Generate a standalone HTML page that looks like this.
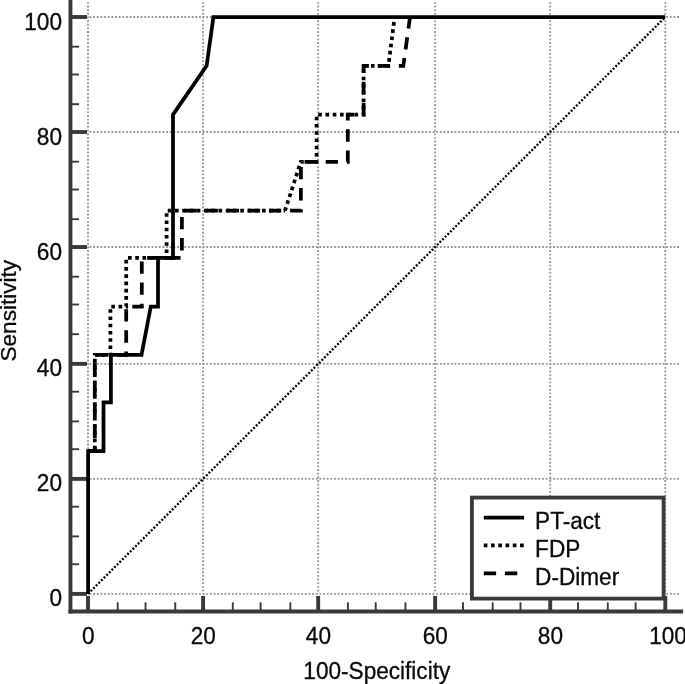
<!DOCTYPE html>
<html><head><meta charset="utf-8"><title>ROC</title>
<style>html,body{margin:0;padding:0;background:#fff}svg{display:block}text{font-family:"Liberation Sans",Arial,sans-serif;font-size:22.6px;fill:#0a0a0a;stroke:#0a0a0a;stroke-width:0.3px}</style></head><body>
<svg width="685" height="684" viewBox="0 0 685 684">
<rect width="685" height="684" fill="#fff"/>
<g stroke="#969696" stroke-width="1.85" stroke-dasharray="1.85 1.8" fill="none">
<line x1="88.00" y1="591.40" x2="88.00" y2="2.3"/>
<line x1="89.50" y1="593.90" x2="679.6" y2="593.90"/>
<line x1="203.09" y1="591.40" x2="203.09" y2="2.3"/>
<line x1="89.50" y1="478.89" x2="679.6" y2="478.89"/>
<line x1="318.18" y1="591.40" x2="318.18" y2="2.3"/>
<line x1="89.50" y1="363.88" x2="679.6" y2="363.88"/>
<line x1="435.12" y1="591.40" x2="435.12" y2="2.3"/>
<line x1="89.50" y1="247.02" x2="679.6" y2="247.02"/>
<line x1="550.22" y1="591.40" x2="550.22" y2="2.3"/>
<line x1="89.50" y1="132.01" x2="679.6" y2="132.01"/>
<line x1="665.30" y1="591.40" x2="665.30" y2="2.3"/>
<line x1="89.50" y1="17.00" x2="679.6" y2="17.00"/>
</g>
<line x1="88.00" y1="593.90" x2="665.30" y2="17.00" stroke="#000" stroke-width="2.3" stroke-dasharray="2.0 1.71"/>
<g stroke="#3a3a3a" fill="none">
<line x1="70.45" y1="0" x2="70.45" y2="613.45" stroke-width="3.9"/>
<line x1="68.5" y1="611.5" x2="683.1" y2="611.5" stroke-width="3.9"/>
<line x1="70.45" y1="593.90" x2="87.00" y2="593.90" stroke-width="3.9"/>
<line x1="88.00" y1="611.5" x2="88.00" y2="595.90" stroke-width="3.9"/>
<line x1="70.45" y1="564.23" x2="79.05" y2="564.23" stroke-width="1.9"/>
<line x1="117.70" y1="611.5" x2="117.70" y2="602.30" stroke-width="1.9"/>
<line x1="70.45" y1="536.40" x2="79.05" y2="536.40" stroke-width="1.9"/>
<line x1="145.54" y1="611.5" x2="145.54" y2="602.30" stroke-width="1.9"/>
<line x1="70.45" y1="506.72" x2="79.05" y2="506.72" stroke-width="1.9"/>
<line x1="175.25" y1="611.5" x2="175.25" y2="602.30" stroke-width="1.9"/>
<line x1="70.45" y1="478.89" x2="87.00" y2="478.89" stroke-width="3.9"/>
<line x1="203.09" y1="611.5" x2="203.09" y2="595.90" stroke-width="3.9"/>
<line x1="70.45" y1="449.21" x2="79.05" y2="449.21" stroke-width="1.9"/>
<line x1="232.79" y1="611.5" x2="232.79" y2="602.30" stroke-width="1.9"/>
<line x1="70.45" y1="421.39" x2="79.05" y2="421.39" stroke-width="1.9"/>
<line x1="260.63" y1="611.5" x2="260.63" y2="602.30" stroke-width="1.9"/>
<line x1="70.45" y1="391.71" x2="79.05" y2="391.71" stroke-width="1.9"/>
<line x1="290.33" y1="611.5" x2="290.33" y2="602.30" stroke-width="1.9"/>
<line x1="70.45" y1="363.88" x2="87.00" y2="363.88" stroke-width="3.9"/>
<line x1="318.18" y1="611.5" x2="318.18" y2="595.90" stroke-width="3.9"/>
<line x1="70.45" y1="334.20" x2="79.05" y2="334.20" stroke-width="1.9"/>
<line x1="347.88" y1="611.5" x2="347.88" y2="602.30" stroke-width="1.9"/>
<line x1="70.45" y1="304.52" x2="79.05" y2="304.52" stroke-width="1.9"/>
<line x1="375.72" y1="611.5" x2="375.72" y2="602.30" stroke-width="1.9"/>
<line x1="70.45" y1="276.70" x2="79.05" y2="276.70" stroke-width="1.9"/>
<line x1="405.43" y1="611.5" x2="405.43" y2="602.30" stroke-width="1.9"/>
<line x1="70.45" y1="247.02" x2="87.00" y2="247.02" stroke-width="3.9"/>
<line x1="435.12" y1="611.5" x2="435.12" y2="595.90" stroke-width="3.9"/>
<line x1="70.45" y1="219.19" x2="79.05" y2="219.19" stroke-width="1.9"/>
<line x1="462.97" y1="611.5" x2="462.97" y2="602.30" stroke-width="1.9"/>
<line x1="70.45" y1="189.51" x2="79.05" y2="189.51" stroke-width="1.9"/>
<line x1="492.67" y1="611.5" x2="492.67" y2="602.30" stroke-width="1.9"/>
<line x1="70.45" y1="161.69" x2="79.05" y2="161.69" stroke-width="1.9"/>
<line x1="520.51" y1="611.5" x2="520.51" y2="602.30" stroke-width="1.9"/>
<line x1="70.45" y1="132.01" x2="87.00" y2="132.01" stroke-width="3.9"/>
<line x1="550.22" y1="611.5" x2="550.22" y2="595.90" stroke-width="3.9"/>
<line x1="70.45" y1="104.19" x2="79.05" y2="104.19" stroke-width="1.9"/>
<line x1="578.06" y1="611.5" x2="578.06" y2="602.30" stroke-width="1.9"/>
<line x1="70.45" y1="74.50" x2="79.05" y2="74.50" stroke-width="1.9"/>
<line x1="607.76" y1="611.5" x2="607.76" y2="602.30" stroke-width="1.9"/>
<line x1="70.45" y1="46.68" x2="79.05" y2="46.68" stroke-width="1.9"/>
<line x1="635.61" y1="611.5" x2="635.61" y2="602.30" stroke-width="1.9"/>
<line x1="70.45" y1="17.00" x2="87.00" y2="17.00" stroke-width="3.9"/>
<line x1="665.30" y1="611.5" x2="665.30" y2="595.90" stroke-width="3.9"/>
</g>
<g stroke="#000" stroke-width="3.75" fill="none" stroke-linejoin="miter">
<path d="M88.1,451.0 L94.8,451.0 L94.8,354.8 L110.4,354.8 L110.4,306.5 L126.2,306.5 L126.2,257.9 L166.6,257.9 L166.6,210.7 L285.0,210.7" stroke-dasharray="3.65 3.6" stroke-dashoffset="6.30"/>
<path d="M285.0,210.7 L300.8,161.8 L316.6,161.8 L316.6,114.7 L363.6,114.7 L363.6,65.9 L388.4,65.9 L394.6,17.2" stroke-dasharray="3.65 3.6" stroke-dashoffset="0.10"/>
<path d="M88.1,451.0 L94.8,451.0 L94.8,354.8 L126.2,354.8 L126.2,306.5 L141.8,306.5 L141.8,257.9 L181.9,257.9 L181.9,210.7 L300.9,210.7 L300.9,161.8 L347.8,161.8 L347.8,114.7 L363.6,114.7 L363.6,65.9 L403.3,65.9 L410.0,17.2" stroke-dasharray="12.32 8.81" stroke-dashoffset="1.45"/>
<path d="M88.1,593.9 L88.1,451.0 L103.5,451.0 L103.5,402.3 L110.9,402.3 L110.9,354.8 L141.5,354.8 L150.8,306.5 L158.0,306.5 L158.0,257.9 L173.0,257.9 L173.0,114.7 L206.6,65.9 L213.4,17.2 L665.0,17.2"/>
</g>
<rect x="471.9" y="497.6" width="191.7" height="101.0" fill="#fff" stroke="#3a3a3a" stroke-width="3.8"/>
<g stroke="#000" stroke-width="3.75" fill="none">
<line x1="483.8" y1="517.6" x2="524.1" y2="517.6"/>
<line x1="483.8" y1="545.4" x2="524.1" y2="545.4" stroke-dasharray="3.65 3.6"/>
<line x1="483.8" y1="573.3" x2="524.1" y2="573.3" stroke-dasharray="12.32 8.81"/>
</g>
<text transform="translate(535.1 528.5) scale(1 1.04)">PT-act</text>
<text transform="translate(535.1 556.5) scale(1 1.04)">FDP</text>
<text transform="translate(535.1 584.5) scale(1 1.04)">D-Dimer</text>
<text transform="translate(62.0 606.4) scale(1 1.04)" text-anchor="end">0</text>
<text transform="translate(88.2 644.2) scale(1 1.04)" text-anchor="middle">0</text>
<text transform="translate(62.0 491.4) scale(1 1.04)" text-anchor="end">20</text>
<text transform="translate(203.3 644.2) scale(1 1.04)" text-anchor="middle">20</text>
<text transform="translate(62.0 376.4) scale(1 1.04)" text-anchor="end">40</text>
<text transform="translate(318.4 644.2) scale(1 1.04)" text-anchor="middle">40</text>
<text transform="translate(62.0 259.5) scale(1 1.04)" text-anchor="end">60</text>
<text transform="translate(435.3 644.2) scale(1 1.04)" text-anchor="middle">60</text>
<text transform="translate(62.0 144.5) scale(1 1.04)" text-anchor="end">80</text>
<text transform="translate(550.4 644.2) scale(1 1.04)" text-anchor="middle">80</text>
<text transform="translate(62.0 29.5) scale(1 1.04)" text-anchor="end">100</text>
<text transform="translate(668.0 644.2) scale(1 1.04)" text-anchor="middle">100</text>
<text transform="translate(376.8 678.8) scale(1 1.04)" text-anchor="middle">100-Specificity</text>
<text transform="translate(15.5 310.7) rotate(-90) scale(1 1.0)" text-anchor="middle">Sensitivity</text>
</svg></body></html>
